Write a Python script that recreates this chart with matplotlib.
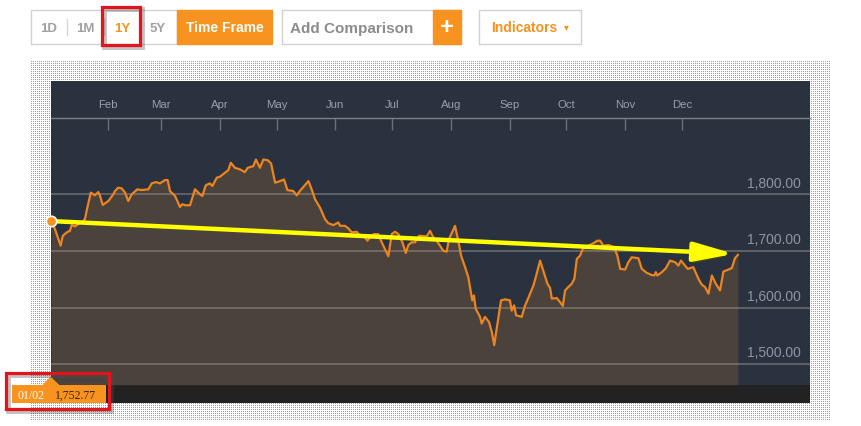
import numpy as np
import matplotlib
matplotlib.use("Agg")
import matplotlib.pyplot as plt
from matplotlib.patches import Rectangle, Polygon
import matplotlib.patheffects as pe

plt.rcParams['font.family'] = ['Liberation Sans', 'DejaVu Sans']

# ---- data (day of year, 0 = Jan 1) ----
day = [1.0, 3.0, 4.8, 6.0, 7.1, 9.2, 10.9, 11.8, 13.6, 15.3,
       17.1, 18.8, 20.1, 21.9, 24.1, 25.9, 26.8, 28.2, 31.2, 33.8,
       34.7, 36.4, 38.2, 40.0, 41.7, 43.5, 46.5, 48.8, 52.3, 54.1,
       56.3, 58.4, 61.1, 62.5, 63.7, 66.4, 69.0, 70.2, 71.7, 74.3,
       76.9, 79.6, 80.8, 82.6, 84.8, 86.1, 88.4, 90.1, 92.8, 94.5,
       95.8, 98.0, 100.7, 103.3, 104.7, 107.7, 109.1, 110.4, 111.2, 113.0,
       115.3, 117.1, 119.2, 121.8, 123.9, 125.7, 128.8, 130.6, 132.7, 136.8,
       138.5, 140.3, 142.9, 145.6, 147.3, 150.0, 152.6, 153.5, 156.1, 157.9,
       159.7, 162.3, 164.0, 166.7, 167.9, 169.3, 171.4, 173.7, 175.5, 179.0,
       180.8, 182.5, 184.3, 186.4, 188.2, 189.6, 191.3, 193.1, 195.2, 199.3,
       201.0, 202.7, 204.5, 208.0, 209.8, 211.0, 212.8, 214.2, 215.9, 217.4,
       219.5, 221.2, 222.1, 223.3, 224.2, 225.1, 227.4, 228.3, 230.0, 232.1,
       233.6, 234.9, 236.2, 238.5, 240.6, 243.2, 244.1, 245.4, 246.4, 249.4,
       251.2, 252.9, 255.6, 257.3, 259.1, 260.8, 263.0, 264.4, 265.3, 267.9,
       269.6, 271.1, 272.3, 274.0, 275.8, 277.2, 278.5, 280.2, 281.6, 284.6,
       287.2, 289.3, 290.8, 292.5, 295.2, 298.2, 299.9, 301.4, 304.0, 305.7,
       307.5, 311.0, 312.8, 315.4, 317.7, 319.4, 320.2, 321.0, 323.4, 325.5,
       327.7, 330.4, 332.1, 333.5, 335.6, 337.1, 340.0, 342.7, 344.5, 346.2,
       348.0, 349.8, 351.9, 354.1, 355.9, 358.5, 360.3, 362.0, 363.5]
close = [1752.77, 1738.6, 1721.1, 1709.3, 1726.8, 1732.8, 1735.6, 1745.6, 1743.3, 1747.4,
         1750.4, 1756.1, 1776.7, 1803.0, 1798.2, 1804.0, 1797.0, 1781.2, 1788.2, 1800.0,
         1805.8, 1811.8, 1810.5, 1803.0, 1788.2, 1800.0, 1808.8, 1807.5, 1808.8, 1819.3,
         1821.6, 1819.3, 1825.1, 1825.1, 1805.8, 1797.0, 1777.7, 1782.5, 1780.7, 1780.7,
         1808.8, 1800.0, 1797.0, 1815.8, 1819.3, 1814.6, 1829.3, 1831.1, 1838.1, 1842.6,
         1855.6, 1846.8, 1843.9, 1839.1, 1846.8, 1849.6, 1861.4, 1852.6, 1846.8, 1861.4,
         1860.2, 1854.4, 1820.5, 1823.3, 1826.3, 1807.5, 1805.8, 1798.2, 1807.5, 1823.3,
         1808.8, 1791.2, 1776.7, 1756.1, 1749.1, 1745.6, 1750.4, 1744.4, 1744.4, 1739.8,
         1732.8, 1733.9, 1726.8, 1724.0, 1718.1, 1724.0, 1729.8, 1729.8, 1715.3, 1690.7,
         1729.8, 1733.9, 1729.8, 1715.3, 1696.5, 1710.5, 1715.3, 1715.3, 1726.8, 1725.8,
         1735.6, 1724.0, 1718.1, 1700.5, 1698.8, 1721.1, 1733.9, 1744.4, 1718.1, 1691.8,
         1671.4, 1653.9, 1636.3, 1612.8, 1621.6, 1598.2, 1583.7, 1571.9, 1583.7, 1574.9,
         1557.4, 1533.9, 1563.2, 1612.8, 1614.6, 1612.8, 1594.7, 1604.0, 1586.5, 1583.7,
         1604.0, 1617.0, 1639.1, 1659.6, 1683.0, 1665.4, 1642.1, 1634.6, 1615.8, 1617.0,
         1610.0, 1603.0, 1630.4, 1636.3, 1642.1, 1650.9, 1686.0, 1691.8, 1703.5, 1709.3,
         1713.5, 1718.1, 1718.1, 1709.3, 1710.5, 1706.5, 1691.8, 1668.4, 1667.2, 1680.2,
         1688.9, 1687.2, 1668.4, 1661.4, 1657.9, 1656.7, 1662.6, 1656.7, 1662.6, 1669.6,
         1683.0, 1680.2, 1674.2, 1683.0, 1674.2, 1668.4, 1671.4, 1650.9, 1640.4, 1636.3,
         1624.6, 1656.7, 1642.1, 1630.4, 1663.7, 1667.2, 1669.6, 1687.2, 1693.0]

month_days = [31, 59, 90, 120, 151, 181, 212, 243, 273, 304, 334]
month_labels = ['Feb', 'Mar', 'Apr', 'May', 'Jun', 'Jul', 'Aug', 'Sep', 'Oct', 'Nov', 'Dec']
price_levels = [1500, 1600, 1700, 1800]
trend_end = (361.5, 1695)
first_date = '01/02'

ORANGE = '#f7931e'
NAVY = '#29323e'
BROWN = '#4b423b'

W, H = 861, 427
fig = plt.figure(figsize=(W / 100, H / 100), dpi=100)
fig.patch.set_facecolor('white')

# dotted orange frame behind the chart panel
fh, fw = 360, 800
dots = np.ones((fh, fw, 3))
dots[::2, ::2] = np.array([240, 138, 36]) / 255
fig.figimage(dots, xo=31, yo=H - 62 - fh, origin='upper', zorder=-1)

def px_axes(z):
    a = fig.add_axes([0, 0, 1, 1], zorder=z)
    a.set_xlim(0, W)
    a.set_ylim(H, 0)
    a.axis('off')
    a.patch.set_alpha(0)
    return a

bg = px_axes(0)

# toolbar
def box(a, x0, y0, x1, y1, fc='white', ec='#d2d2d2', lw=1, **kw):
    a.add_patch(Rectangle((x0, y0), x1 - x0, y1 - y0, facecolor=fc, edgecolor=ec, lw=lw, **kw))

box(bg, 31, 11, 177, 45)
box(bg, 177, 11, 272, 45, fc=ORANGE, ec=ORANGE)
box(bg, 282, 11, 461, 45)
box(bg, 433, 11, 461, 45, fc=ORANGE, ec=ORANGE)
box(bg, 479, 11, 581, 45)
for sx in (67, 104):
    bg.plot([sx, sx], [20, 36], color='#d6d6d6', lw=1)

tb = dict(ha='center', va='center', fontweight='bold')
for lbl, x, c in [('1D', 49, '#a0a0a0'), ('1M', 85, '#a0a0a0'), ('1Y', 122, ORANGE), ('5Y', 158, '#a0a0a0')]:
    bg.text(x, 28.5, lbl, color=c, fontsize=9.5, **tb)
bg.text(225, 28.5, 'Time Frame', color='white', fontsize=10, **tb)
bg.text(352, 28.5, 'Add Comparison', color='#8c8c8c', fontsize=11, **tb)
bg.text(447, 28, '+', color='white', fontsize=17, **tb)
bg.text(524, 28.5, 'Indicators', color=ORANGE, fontsize=10, **tb)
bg.text(566, 27.5, '\u25be', color=ORANGE, fontsize=7, ha='center', va='center',
        family=['DejaVu Sans'])

# chart panel
box(bg, 51, 82, 810, 404, fc=NAVY, ec='none', lw=0)
box(bg, 51, 385.7, 810, 404, fc='#222222', ec='none', lw=0)

# data axes
top_px, bot_px = 118.7, 385.7
ax = fig.add_axes([51 / W, (H - bot_px) / H, (810 - 51) / W, (bot_px - top_px) / H], zorder=1)
ax.patch.set_alpha(0)
ax.set_xlim(0.9, 401.6)
ax.set_ylim(1464, 1935.2)

ax.fill_between(day, close, 1464, color=BROWN, lw=0, zorder=1)
for lv in price_levels:
    ax.axhline(lv, color='#a09890', alpha=0.5, lw=1.3, zorder=2)
    ax.annotate(f'{lv:,.2f}', xy=(1, lv), xycoords=ax.get_yaxis_transform(),
                xytext=(-6.5, 8.5), textcoords='offset points', ha='right', va='center',
                color='#8d96a0', fontsize=10, annotation_clip=False)
ax.plot(day, close, color='#ec8420', lw=1.6, zorder=3)

for s in ('left', 'right', 'bottom'):
    ax.spines[s].set_visible(False)
ax.spines['top'].set_color('#7b7f84')
ax.spines['top'].set_linewidth(1)
ax.set_yticks([])
ax.xaxis.tick_top()
ax.set_xticks(month_days, month_labels)
ax.tick_params(axis='x', direction='in', length=8.7, width=1, color='#6a7078',
               labelcolor='#98a0aa', labelsize=8.2, pad=6)

# trend arrow
ann = ax.annotate('', xy=trend_end, xytext=(day[0], close[0]),
                  arrowprops=dict(arrowstyle='-|>,head_length=24,head_width=5.8',
                                  mutation_scale=1, color='#ffff00', lw=3.2,
                                  shrinkA=0, shrinkB=0), zorder=4)
ann.arrow_patch.set_path_effects([pe.SimplePatchShadow(offset=(1.5, -2.5), alpha=0.7),
                                  pe.Normal()])
ax.plot(day[0], close[0], 'o', ms=7.5, mfc=ORANGE, mec='white', mew=1.2,
        zorder=5, clip_on=False)

# foreground: tooltip and highlight boxes
fg = px_axes(2)
box(fg, 12, 386, 106, 404, fc=ORANGE, ec='none', lw=0)
fg.add_patch(Polygon([(42.7, 386), (50.5, 377.5), (59.3, 386)], closed=True,
                     facecolor=ORANGE, edgecolor='none'))
fg.text(31.5, 396, first_date, color='white', fontsize=8.5, ha='center', va='center',
        family=['Liberation Serif', 'DejaVu Serif'])
fg.text(76, 396, f'{close[0]:,.2f}', color='#3b2410', fontsize=8.5, ha='center', va='center',
        family=['Liberation Serif', 'DejaVu Serif'])

for (x0, y0, x1, y1) in [(6, 374, 109, 410), (102, 7.5, 139.5, 46)]:
    # soft grey drop shadow, then the red outline
    box(fg, x0 + 2, y0 + 2, x1 + 2, y1 + 2, fc='none', ec='#505050', lw=3.5, alpha=0.35)
    box(fg, x0, y0, x1, y1, fc='none', ec='#e3141b', lw=2.3)

fig.savefig('out.png', dpi=100)
